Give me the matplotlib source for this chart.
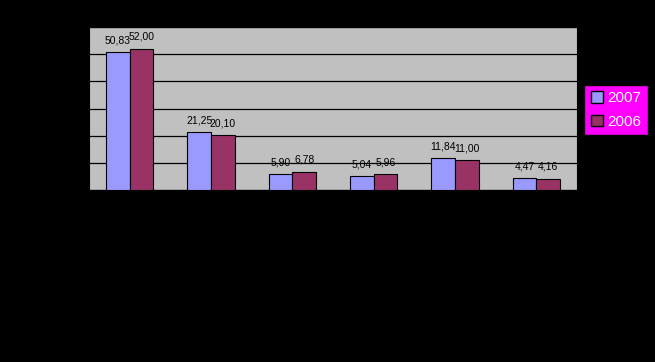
import numpy as np
import matplotlib.pyplot as plt
from matplotlib.patches import Patch

# values
categories = ["A", "B", "C", "D", "E", "F"]
values_2007 = [50.83, 21.25, 5.90, 5.04, 11.84, 4.47]
values_2006 = [52.00, 20.10, 6.78, 5.96, 11.00, 4.16]
series_names = ["2007", "2006"]

COLOR_2007 = "#9999FF"
COLOR_2006 = "#993366"
PLOT_BG = "#C0C0C0"

plt.rcParams["font.family"] = ["Liberation Sans", "DejaVu Sans"]

fig = plt.figure(figsize=(6.55, 3.62), dpi=100, facecolor="black")
ax = fig.add_axes([89 / 655, 172 / 362, 488 / 655, 163 / 362])
ax.set_facecolor(PLOT_BG)

x = np.arange(len(categories))
width = 0.29
bars_a = ax.bar(x - width / 2, values_2007, width, color=COLOR_2007,
                edgecolor="black", linewidth=0.8, zorder=3)
bars_b = ax.bar(x + width / 2, values_2006, width, color=COLOR_2006,
                edgecolor="black", linewidth=0.8, zorder=3)

for bars, vals in ((bars_a, values_2007), (bars_b, values_2006)):
    for rect, v in zip(bars, vals):
        ax.annotate(f"{v:.2f}".replace(".", ","),
                    xy=(rect.get_x() + rect.get_width() / 2, rect.get_height()),
                    xytext=(0, 8.5), textcoords="offset points",
                    ha="center", va="center", fontsize=7.5, color="black",
                    zorder=4)

ax.set_xlim(-0.5, len(categories) - 0.5)
ax.set_ylim(0, 60)
ax.set_yticks(np.arange(0, 61, 10))
ax.yaxis.grid(True, color="black", linewidth=0.9, zorder=1)
ax.set_xticks([])
ax.tick_params(axis="y", length=0, labelleft=False)
for sp in ax.spines.values():
    sp.set_color("black")

handles = [Patch(facecolor=COLOR_2007, edgecolor="black"),
           Patch(facecolor=COLOR_2006, edgecolor="black")]
leg = fig.legend(handles, series_names, loc="center",
                 bbox_to_anchor=(616 / 655, 1 - 110 / 362),
                 fontsize=11, frameon=True, fancybox=False,
                 handlelength=0.8, handleheight=0.8, handletextpad=0.3,
                 labelspacing=0.6, borderpad=0.4)
leg.get_frame().set_facecolor("#FF00FF")
leg.get_frame().set_edgecolor("black")
leg.get_frame().set_alpha(1)
for t in leg.get_texts():
    t.set_color("white")

fig.savefig("out.png", dpi=100, facecolor="black")
